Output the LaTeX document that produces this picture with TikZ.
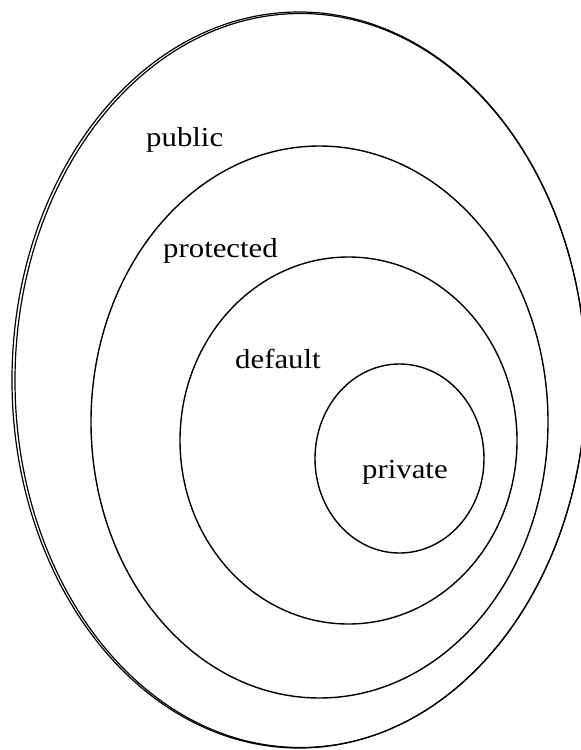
\documentclass[tikz,border=0pt]{standalone}
\usepackage{fontspec}
\setmainfont{Liberation Serif}[FakeStretch=1.12]
\begin{document}
\begin{tikzpicture}[x=1pt,y=-1pt,
  ring/.style={draw=black,line width=1.4pt},
  lab/.style={inner sep=0pt,anchor=base west,font=\fontsize{27.5}{30}\selectfont}]
\useasboundingbox (0,0) rectangle (581,750);
\clip (0,0) rectangle (581,750);
% outer (public), drawn as a slightly doubled stroke
\draw[ring,line width=1.2pt] (299,380) ellipse [x radius=287pt, y radius=368pt];
\draw[ring,line width=1.2pt] (300.5,380.5) ellipse [x radius=285.5pt, y radius=367pt];
% protected
\draw[ring] (319.5,422) ellipse [x radius=228.5pt, y radius=276pt];
% default
\draw[ring] (348.5,440.5) ellipse [x radius=168.5pt, y radius=183.5pt];
% private
\draw[ring] (399.5,458.5) ellipse [x radius=84.5pt, y radius=94.5pt];
% labels
\node[lab] (public) at (146,146) {public};
\node[lab] (protected) at (163,257) {protected};
\node[lab] (default) at (235,368) {default};
\node[lab] (private) at (362,478) {private};
\end{tikzpicture}
\end{document}
